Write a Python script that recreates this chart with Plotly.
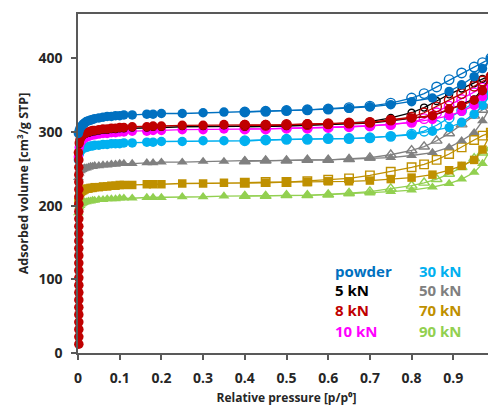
import plotly.graph_objects as go

# ---------------- data ----------------
P_ADS = [0.001, 0.003, 0.005, 0.007, 0.01, 0.013, 0.016, 0.02, 0.025, 0.03, 0.035, 0.04,
         0.05, 0.06, 0.07, 0.08, 0.09, 0.1, 0.11, 0.13, 0.165, 0.18, 0.2, 0.25, 0.3, 0.35,
         0.4, 0.45, 0.5, 0.55, 0.6, 0.65, 0.7, 0.75, 0.8, 0.85, 0.89, 0.92, 0.95, 0.97, 0.99]
P_DES = [0.99, 0.97, 0.95, 0.92, 0.89, 0.86, 0.83, 0.8, 0.75, 0.7, 0.65, 0.6, 0.55, 0.5, 0.45, 0.4]

# steep initial uptake of the 8 kN sample (column at p/p0 ~ 0)
P_COL = [0.002, 0.002, 0.002, 0.002, 0.002, 0.002, 0.002, 0.002, 0.002, 0.002, 0.002, 0.002, 0.002,
         0.002, 0.002, 0.002, 0.002, 0.002, 0.002, 0.002, 0.002, 0.002, 0.002, 0.002, 0.002, 0.002]
V_COL_8KN = [12, 22, 32, 42, 52, 62, 72, 82, 92, 102, 112, 122, 132, 142, 152, 162, 172, 182,
             192, 202, 212, 222, 232, 242, 252, 262]

ADS_POWDER = [298, 302, 305, 307, 309, 311, 312, 314, 315, 316, 317, 318, 319, 320, 321, 321, 322, 322,
              323, 323, 324, 324, 325, 325, 326, 327, 327, 328, 329, 330, 331, 332, 334, 337, 341, 346,
              355, 364, 375, 386, 399]
ADS_5KN = [270, 283, 288, 291, 293, 295, 296, 297, 298, 299, 300, 300, 301, 302, 302, 303, 303, 304,
           304, 305, 305, 306, 306, 307, 307, 308, 308, 308, 309, 309, 310, 311, 312, 315, 318, 322,
           330, 337, 345, 358, 376]
ADS_8KN = [272, 285, 290, 293, 295, 297, 298, 299, 300, 301, 302, 302, 303, 304, 304, 305, 305, 306,
           306, 307, 307, 308, 308, 309, 309, 310, 310, 310, 310, 311, 311, 312, 313, 316, 319, 322,
           331, 336, 343, 356, 374]
ADS_10KN = [266, 279, 284, 287, 289, 291, 292, 293, 294, 295, 296, 296, 297, 298, 298, 299, 299, 300,
            300, 301, 301, 302, 302, 303, 303, 304, 304, 304, 305, 305, 306, 307, 308, 310, 313, 317,
            322, 328, 336, 348, 366]
ADS_30KN = [262, 270, 273, 275, 277, 278, 279, 279, 280, 281, 281, 282, 282, 283, 283, 284, 284, 284,
            285, 285, 286, 286, 287, 287, 288, 288, 288, 289, 290, 290, 291, 291, 292, 294, 296, 301,
            306, 313, 324, 336, 352]
ADS_50KN = [238, 244, 247, 248, 249, 250, 251, 251, 252, 253, 253, 254, 254, 255, 255, 256, 256, 257,
            257, 257, 258, 258, 259, 259, 260, 260, 261, 261, 261, 262, 262, 263, 264, 265, 268, 272,
            279, 288, 299, 315, 335]
ADS_70KN = [205, 214, 217, 219, 220, 221, 222, 223, 223, 224, 224, 225, 225, 226, 226, 227, 227, 228,
            228, 228, 229, 229, 229, 230, 230, 231, 231, 231, 232, 232, 233, 233, 234, 236, 238, 242,
            248, 254, 262, 276, 298]
ADS_90KN = [190, 198, 200, 202, 203, 204, 205, 205, 206, 206, 207, 207, 208, 208, 209, 209, 209, 210,
            210, 210, 211, 211, 211, 212, 212, 213, 213, 213, 214, 214, 215, 216, 217, 219, 221, 225,
            230, 236, 245, 257, 277]

DES_POWDER = [400, 394, 388, 380, 371, 361, 352, 346, 339, 335, 333, 331, 330, 329, 328, 327]
DES_5KN = [377, 372, 366, 359, 351, 342, 333, 326, 319, 314, 312, 310, 309, 308, 308, 307]
DES_8KN = [375, 369, 362, 352, 343, 334, 326, 320, 316, 313, 312, 311, 310, 310, 309, 309]
DES_10KN = [366, 360, 353, 344, 335, 326, 318, 313, 310, 308, 307, 306, 305, 305, 304, 304]
DES_30KN = [353, 346, 339, 329, 319, 309, 301, 297, 294, 292, 291, 291, 290, 290, 289, 288]
DES_50KN = [336, 330, 322, 310, 298, 288, 280, 275, 269, 265, 263, 262, 262, 261, 261, 260]
DES_70KN = [299, 295, 289, 279, 270, 262, 256, 252, 246, 241, 237, 235, 233, 232, 232, 231]
DES_90KN = [278, 272, 264, 252, 243, 236, 231, 227, 223, 219, 217, 215, 214, 214, 213, 213]

LABELS = ["powder", "5 kN", "8 kN", "10 kN", "30 kN", "50 kN", "70 kN", "90 kN"]
COLORS = ["#0070C0", "#000000", "#C00000", "#FF00FF", "#00B0F0", "#808080", "#BF9000", "#92D050"]
SYMBOLS = ["circle", "circle", "circle", "circle", "circle", "triangle-up", "square", "triangle-up"]

ADS = [ADS_POWDER, ADS_5KN, ADS_8KN, ADS_10KN, ADS_30KN, ADS_50KN, ADS_70KN, ADS_90KN]
DES = [DES_POWDER, DES_5KN, DES_8KN, DES_10KN, DES_30KN, DES_50KN, DES_70KN, DES_90KN]

X_TICKS = [0, 0.1, 0.2, 0.3, 0.4, 0.5, 0.6, 0.7, 0.8, 0.9, 1]
X_TICK_TEXT = ["0", "0.1", "0.2", "0.3", "0.4", "0.5", "0.6", "0.7", "0.8", "0.9", "1"]
Y_TICKS = [0, 100, 200, 300, 400]
Y_TICK_TEXT = ["0", "100", "200", "300", "400"]

# ---------------- figure ----------------
fig = go.Figure()
draw_order = [7, 6, 5, 4, 3, 1, 2, 0]
for i in draw_order:
    col = COLORS[i]
    sym = SYMBOLS[i]
    size = 9.5 if sym != "square" else 8.5
    if i == 1:
        size = 7
    # desorption (open markers)
    fig.add_trace(go.Scatter(
        x=P_DES, y=DES[i], mode="lines+markers",
        line=dict(color=col, width=1.3),
        marker=dict(symbol=sym + "-open", size=size, color=col, line=dict(width=1.4, color=col)),
        cliponaxis=False, showlegend=False, hoverinfo="skip"))
    # adsorption (filled markers)
    xs = list(P_ADS)
    ys = list(ADS[i])
    if i == 2:
        xs = P_COL + xs
        ys = V_COL_8KN + ys
    fig.add_trace(go.Scatter(
        x=xs, y=ys, mode="lines+markers",
        line=dict(color=col, width=1.3),
        marker=dict(symbol=sym, size=size, color=col, line=dict(width=0)),
        cliponaxis=False, showlegend=False, hoverinfo="skip"))

# legend as coloured text
FONT = "Open Sans"
leg_x = [0.612, 0.612, 0.612, 0.612, 0.812, 0.812, 0.812, 0.812]
leg_y = [111, 85, 58, 30, 111, 85, 58, 30]
for i, lab in enumerate(LABELS):
    fig.add_annotation(x=leg_x[i], y=leg_y[i], xref="x", yref="y", text="<b>" + lab + "</b>",
                       showarrow=False, xanchor="left", yanchor="middle",
                       font=dict(family=FONT, size=15, color=COLORS[i]))

axis_col = "#595959"
txt_col = "#262626"
# the page body has an 8 px default margin; the figure is sized so that it fills the window
fig.update_layout(
    width=488, height=399,
    margin=dict(l=70, r=1, t=6, b=54),
    paper_bgcolor="white", plot_bgcolor="white",
    font=dict(family=FONT, size=12, color=txt_col),
    xaxis=dict(range=[0, 1.0], tickvals=X_TICKS,
               ticktext=["<b>" + t + "</b>" for t in X_TICK_TEXT],
               automargin=False, ticklabeloverflow="allow",
               showgrid=False, zeroline=False, showline=True, linecolor=axis_col, linewidth=1.5,
               mirror=True, ticks="outside", ticklen=5, tickcolor=axis_col, tickwidth=1.5,
               ticklabelstandoff=6,
               tickfont=dict(family=FONT, size=14, color=txt_col),
               title=dict(text="<b>Relative pressure [p/p⁰]</b>", standoff=8,
                          font=dict(family=FONT, size=12, color=txt_col))),
    yaxis=dict(range=[0, 460], tickvals=Y_TICKS,
               ticktext=["<b>" + t + "</b>" for t in Y_TICK_TEXT],
               automargin=False,
               showgrid=False, zeroline=False, showline=True, linecolor=axis_col, linewidth=1.5,
               ticks="outside", ticklen=5, tickcolor=axis_col, tickwidth=1.5,
               ticklabelstandoff=6,
               tickfont=dict(family=FONT, size=14, color=txt_col),
               title=dict(text="<b>Adsorbed volume [cm³/g STP]</b>", standoff=7,
                          font=dict(family=FONT, size=12.5, color=txt_col))),
)

fig.write_html("out.html")
